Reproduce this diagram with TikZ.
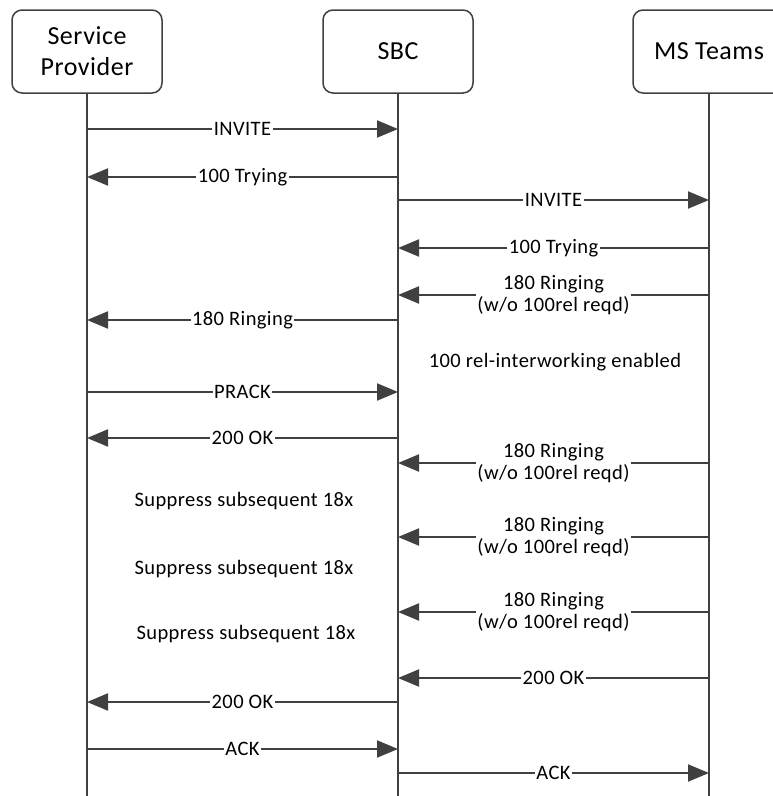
\documentclass[tikz,border=0pt]{standalone}
\usepackage{fontspec}
\setmainfont{Carlito}
\usetikzlibrary{arrows.meta}
\definecolor{ln}{HTML}{404040}
\tikzset{
  actor/.style={draw=ln, line width=1.5pt, rounded corners=10pt, minimum width=150pt, minimum height=83pt, align=center, font=\fontsize{26}{31}\selectfont\addfontfeatures{LetterSpace=2}, inner sep=0pt},
  life/.style={draw=ln, line width=2pt},
  msg/.style={draw=ln, line width=2pt, -{Triangle[length=21pt,width=17pt]}},
  lbl/.style={fill=white, inner sep=1.5pt, font=\fontsize{20.5}{22}\selectfont\addfontfeatures{LetterSpace=2}, align=center},
  note/.style={inner sep=0pt, font=\fontsize{20.5}{22}\selectfont\addfontfeatures{LetterSpace=2}}
}
\begin{document}
\begin{tikzpicture}[x=1pt,y=-1pt]
\useasboundingbox (0,0) rectangle (772,796);
\node[actor] (sp) at (87,51.5) {Service\\Provider};
\node[actor] (sbc) at (398,51.5) {SBC};
\node[actor, minimum width=152pt] (ms) at (709,51.5) {MS Teams};
\coordinate (spend) at (87,796);
\coordinate (sbcend) at (398,796);
\coordinate (msend) at (709,796);
\draw[life] (sp.south) -- (spend);
\draw[life] (sbc.south) -- (sbcend);
\draw[life] (ms.south) -- (msend);
% messages
\path (sp.south |- 0,129) coordinate (m1a) (sbc.south |- 0,129) coordinate (m1b);
\draw[msg] (m1a) -- node[lbl] {INVITE} (m1b);
\path (sbc.south |- 0,177) coordinate (m2a) (sp.south |- 0,177) coordinate (m2b);
\draw[msg] (m2a) -- node[lbl] {100 Trying} (m2b);
\path (sbc.south |- 0,200) coordinate (m3a) (ms.south |- 0,200) coordinate (m3b);
\draw[msg] (m3a) -- node[lbl] {INVITE} (m3b);
\path (ms.south |- 0,248) coordinate (m4a) (sbc.south |- 0,248) coordinate (m4b);
\draw[msg] (m4a) -- node[lbl] {100 Trying} (m4b);
\path (ms.south |- 0,295) coordinate (m5a) (sbc.south |- 0,295) coordinate (m5b);
\draw[msg] (m5a) -- node[lbl] {180 Ringing\\(w/o 100rel reqd)} (m5b);
\path (sbc.south |- 0,320) coordinate (m6a) (sp.south |- 0,320) coordinate (m6b);
\draw[msg] (m6a) -- node[lbl] {180 Ringing} (m6b);
\node[note] (n1) at (555,362) {100 rel-interworking enabled};
\path (sp.south |- 0,392) coordinate (m7a) (sbc.south |- 0,392) coordinate (m7b);
\draw[msg] (m7a) -- node[lbl] {PRACK} (m7b);
\path (sbc.south |- 0,438) coordinate (m8a) (sp.south |- 0,438) coordinate (m8b);
\draw[msg] (m8a) -- node[lbl] {200 OK} (m8b);
\path (ms.south |- 0,463) coordinate (m9a) (sbc.south |- 0,463) coordinate (m9b);
\draw[msg] (m9a) -- node[lbl] {180 Ringing\\(w/o 100rel reqd)} (m9b);
\node[note] (n2) at (244,501) {Suppress subsequent 18x};
\path (ms.south |- 0,537) coordinate (m10a) (sbc.south |- 0,537) coordinate (m10b);
\draw[msg] (m10a) -- node[lbl] {180 Ringing\\(w/o 100rel reqd)} (m10b);
\node[note] (n3) at (244,569) {Suppress subsequent 18x};
\path (ms.south |- 0,612) coordinate (m11a) (sbc.south |- 0,612) coordinate (m11b);
\draw[msg] (m11a) -- node[lbl] {180 Ringing\\(w/o 100rel reqd)} (m11b);
\node[note] (n4) at (246,634) {Suppress subsequent 18x};
\path (ms.south |- 0,678) coordinate (m12a) (sbc.south |- 0,678) coordinate (m12b);
\draw[msg] (m12a) -- node[lbl] {200 OK} (m12b);
\path (sbc.south |- 0,702) coordinate (m13a) (sp.south |- 0,702) coordinate (m13b);
\draw[msg] (m13a) -- node[lbl] {200 OK} (m13b);
\path (sp.south |- 0,749) coordinate (m14a) (sbc.south |- 0,749) coordinate (m14b);
\draw[msg] (m14a) -- node[lbl] {ACK} (m14b);
\path (sbc.south |- 0,773) coordinate (m15a) (ms.south |- 0,773) coordinate (m15b);
\draw[msg] (m15a) -- node[lbl] {ACK} (m15b);
\end{tikzpicture}
\end{document}
